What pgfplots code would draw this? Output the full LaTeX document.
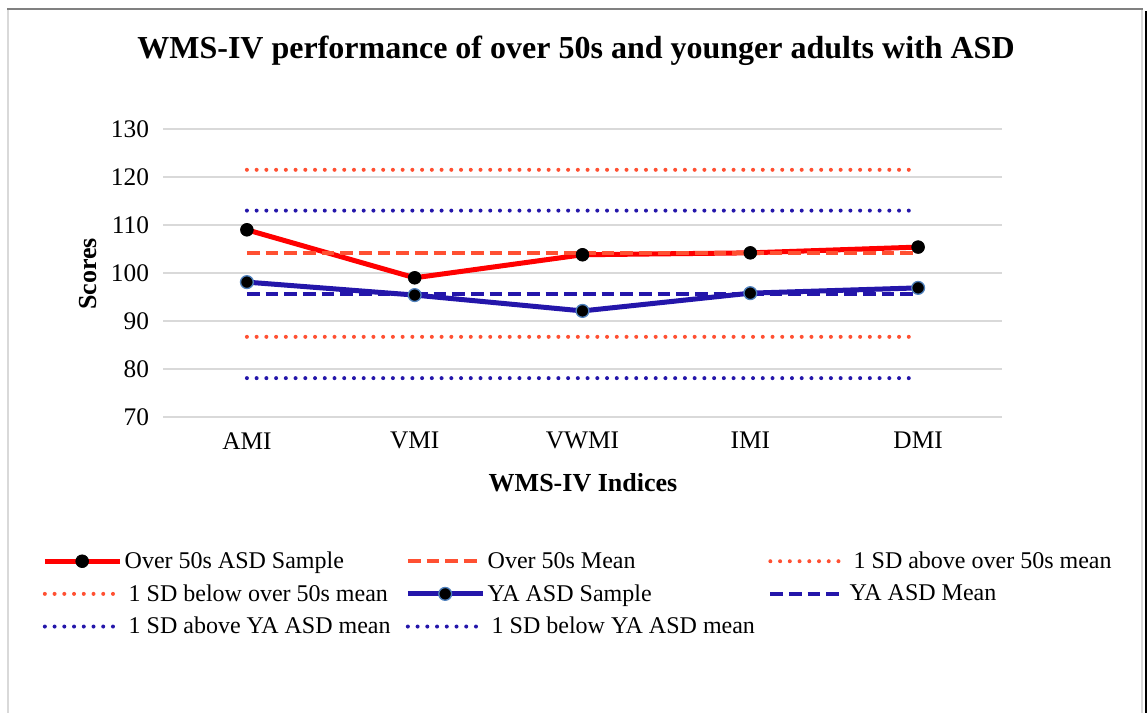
\documentclass[border=0pt]{standalone}
\usepackage{pgfplots}
\pgfplotsset{compat=1.18}
\usepackage{fontspec}
\setmainfont{Liberation Serif}
\definecolor{ored}{RGB}{255,0,0}
\definecolor{omean}{RGB}{255,80,50}
\definecolor{yblue}{RGB}{36,22,170}
\definecolor{mblue}{RGB}{79,129,189}
\definecolor{gridgray}{RGB}{217,217,217}
\begin{document}
\begin{tikzpicture}[x=0.75pt,y=0.75pt]
\path[use as bounding box] (0,0) rectangle (1148,713);
\fill[white] (0,0) rectangle (1148,713);
\draw[gridgray, line width=1.5pt] (8,0) -- (8,704);
\draw[gridgray, line width=1pt] (1142,0) -- (1142,703);
\draw[black, line width=2pt] (1146,0) -- (1146,702);
\draw[gray, line width=1.2pt] (7,704) -- (1143,704);
\node[font=\fontsize{24}{28}\selectfont\bfseries] at (576,662) {WMS-IV performance of over 50s and younger adults with ASD};
\begin{axis}[
  at={(122.25pt,222pt)}, anchor=south west,
  scale only axis, width=629.25pt, height=216pt,
  xmin=-0.5, xmax=4.5, ymin=70, ymax=130,
  xtick={0,1,2,3,4}, xticklabels={AMI,VMI,VWMI,IMI,DMI},
  ytick={70,80,90,100,110,120,130},
  ymajorgrids, grid style={gridgray, line width=1.3pt},
  axis line style={draw=none}, major tick length=0pt,
  tick label style={font=\fontsize{19}{22}\selectfont},
  /pgf/number format/assume math mode=true,
  yticklabel style={xshift=-7pt},
  xticklabel style={yshift=-8pt},
  xlabel={WMS-IV Indices}, ylabel={Scores},
  label style={font=\fontsize{19.5}{23}\selectfont\bfseries},
  xlabel style={at={(axis description cs:0.5006,-0.229)}, anchor=center},
  ylabel style={at={(axis description cs:-0.0894,0.497)}, anchor=center},
  legend columns=3,
  legend style={draw=none, fill=none, font=\fontsize{18}{21}\selectfont,
    at={(-0.1489,-0.449)}, anchor=north west, cells={anchor=west},
    row sep=6.5pt},
  legend image code/.code={\draw[mark repeat=2,mark phase=2,#1] plot coordinates {(0pt,0pt) (28pt,0pt) (56pt,0pt)};},
]
\addplot[ored, line width=3.75pt, mark=*, mark size=4.8pt, mark options={solid, fill=black, draw=black, line width=0.5pt}]
  coordinates {(0,109.0) (1,99.0) (2,103.8) (3,104.2) (4,105.4)};
\addlegendentry{\makebox[208.5pt][l]{Over 50s ASD Sample}}
\addplot[omean, line width=3pt, dash pattern=on 9.5pt off 4.5pt]
  coordinates {(0,104.2) (1,104.2) (2,104.2) (3,104.2) (4,104.2)};
\addlegendentry{\makebox[208.5pt][l]{Over 50s Mean}}
\addplot[omean, line width=3pt, line cap=round, dash pattern=on 0pt off 7.3pt]
  coordinates {(0,121.5) (1,121.5) (2,121.5) (3,121.5) (4,121.5)};
\addlegendentry{\makebox[208.5pt][l]{\hspace{3pt}1 SD above over 50s mean}}
\addplot[omean, line width=3pt, line cap=round, dash pattern=on 0pt off 7.3pt]
  coordinates {(0,86.7) (1,86.7) (2,86.7) (3,86.7) (4,86.7)};
\addlegendentry{\makebox[208.5pt][l]{\hspace{3pt}1 SD below over 50s mean}}
\addplot[yblue, line width=3.75pt, mark=*, mark size=4.8pt, mark options={solid, fill=black, draw=mblue, line width=1pt}]
  coordinates {(0,98.1) (1,95.4) (2,92.1) (3,95.8) (4,96.9)};
\addlegendentry{\makebox[208.5pt][l]{YA ASD Sample}}
\addplot[yblue, line width=3pt, dash pattern=on 9.5pt off 4.5pt]
  coordinates {(0,95.6) (1,95.6) (2,95.6) (3,95.6) (4,95.6)};
\addlegendentry{\makebox[208.5pt][l]{YA ASD Mean}}
\addplot[yblue, line width=3pt, line cap=round, dash pattern=on 0pt off 7.3pt]
  coordinates {(0,113.0) (1,113.0) (2,113.0) (3,113.0) (4,113.0)};
\addlegendentry{\makebox[208.5pt][l]{\hspace{3pt}1 SD above YA ASD mean}}
\addplot[yblue, line width=3pt, line cap=round, dash pattern=on 0pt off 7.3pt]
  coordinates {(0,78.1) (1,78.1) (2,78.1) (3,78.1) (4,78.1)};
\addlegendentry{\makebox[208.5pt][l]{\hspace{3pt}1 SD below YA ASD mean}}
\end{axis}
\end{tikzpicture}
\end{document}
